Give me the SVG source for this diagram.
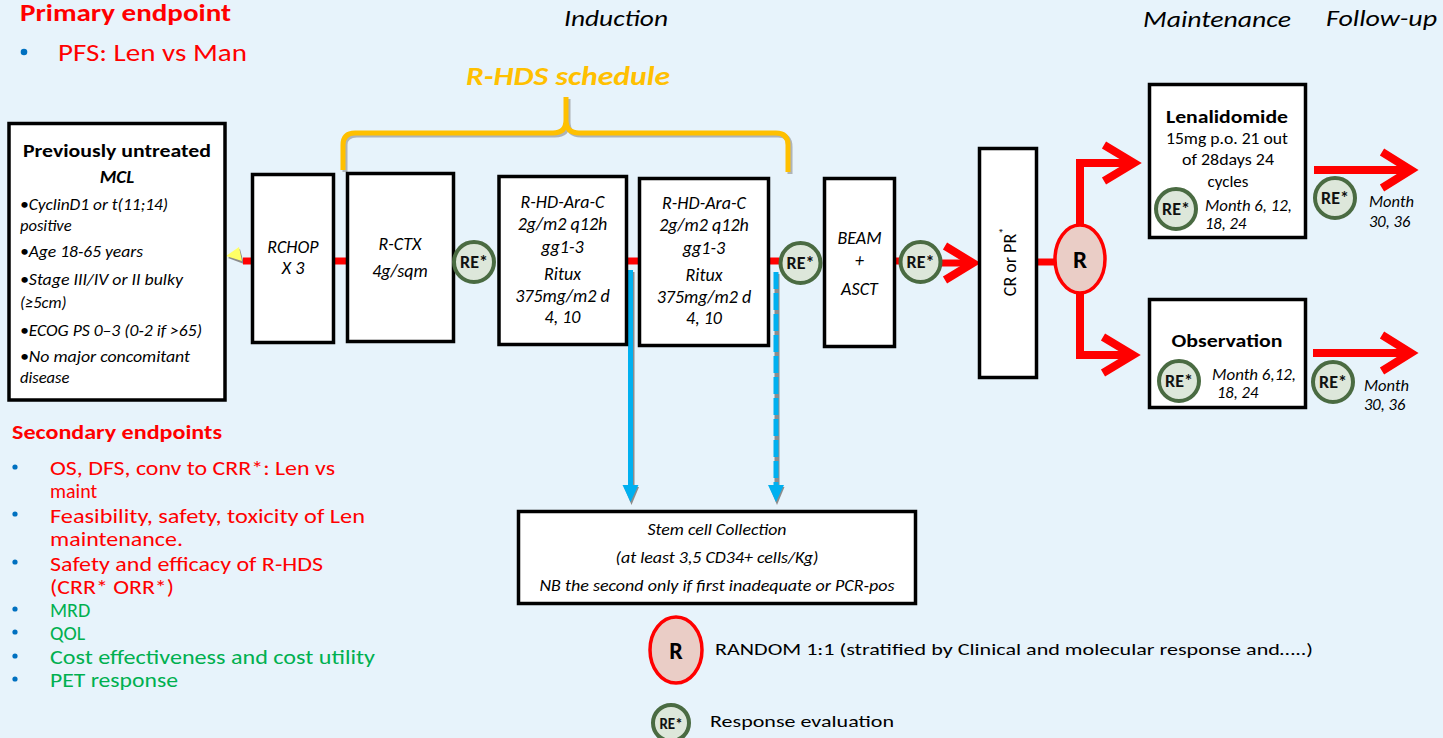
<svg xmlns="http://www.w3.org/2000/svg" width="1443" height="738" viewBox="0 0 1443 738">
<style>
text{font-family:Carlito,Lato,"Liberation Sans",sans-serif;fill:#000}
.box{fill:#fff;stroke:#000;stroke-width:3.5}
.it{font-style:italic}
.b{font-weight:bold}
.red{fill:#ff0000}
.grn{fill:#00b050}
.bt{font-size:18px;font-style:italic;text-anchor:middle}
.re circle{fill:#dde7da;stroke:#4a6b42;stroke-width:4}
.re text{font-size:18px;font-weight:bold;text-anchor:middle;fill:#111}
.rl{stroke:#ff0000;stroke-width:7;fill:none}
.ra{stroke:#ff0000;stroke-width:8;fill:none;stroke-linejoin:miter}
.sec{font-size:20px}
.bul{fill:#0070c0}
</style>
<rect x="0" y="0" width="1443" height="738" fill="#e7f3fb"/>

<!-- headers -->
<g id="headers">
<text x="20" y="21" class="b red" font-size="24" textLength="211" lengthAdjust="spacingAndGlyphs">Primary endpoint</text>
<circle cx="24" cy="52" r="3.3" class="bul"/>
<text x="58" y="61" class="red" font-size="24" textLength="189" lengthAdjust="spacingAndGlyphs">PFS: Len vs Man</text>
<text x="564" y="26" class="it" font-size="23" textLength="104" lengthAdjust="spacingAndGlyphs">Induction</text>
<text x="1143" y="27" class="it" font-size="23" textLength="148" lengthAdjust="spacingAndGlyphs">Maintenance</text>
<text x="1326" y="26" class="it" font-size="23" textLength="111" lengthAdjust="spacingAndGlyphs">Follow-up</text>
</g>

<!-- brace -->
<g id="brace">
<path d="M345,172 L345,145 Q345,135 357,135 L555,135 Q568,135 568,122 L568,99 M568,122 Q568,135 581,135 L778,135 Q790,135 790,147 L790,174" fill="none" stroke="#8a8a8a" stroke-width="5" opacity="0.6"/>
<path d="M343,170 L343,145 Q343,133 355,133 L553,133 Q566,133 566,120 L566,97 M566,120 Q566,133 579,133 L776,133 Q788,133 788,145 L788,172" fill="none" stroke="#ffc000" stroke-width="5"/>
<text x="568" y="85" class="b it" font-size="26" text-anchor="middle" style="fill:#ffc000" textLength="204" lengthAdjust="spacingAndGlyphs">R-HDS schedule</text>
</g>

<!-- connectors -->
<g id="connectors">
<polygon points="228,258 240,249 244,264" fill="#8c8c8c"/>
<polygon points="226,256 239,247 242,261" fill="#ffff66"/>
<line x1="243" y1="261" x2="251" y2="261" class="rl"/>
<line x1="335" y1="261" x2="347" y2="261" class="rl"/>
<line x1="628" y1="261" x2="639" y2="261" class="rl"/>
<line x1="769" y1="261" x2="779" y2="261" class="rl"/>
<line x1="895" y1="261" x2="900" y2="261" class="rl"/>
<line x1="942" y1="263" x2="972" y2="263" class="rl"/>
<path d="M945,246 L973,263 L945,280" class="ra"/>
<line x1="1037" y1="262" x2="1056" y2="262" class="rl"/>
<path d="M1080,226 L1080,163 L1132,163" class="ra"/>
<path d="M1104,145 L1134,163 L1104,181" class="ra"/>
<path d="M1080,292 L1080,355 L1130,355" class="ra"/>
<path d="M1103,337 L1133,355 L1103,373" class="ra"/>
<line x1="1314" y1="170" x2="1408" y2="170" class="ra"/>
<path d="M1382,152 L1411,170 L1382,188" class="ra"/>
<line x1="1313" y1="353" x2="1408" y2="353" class="ra"/>
<path d="M1382,335 L1411,353 L1382,371" class="ra"/>
<!-- blue to stem cell -->
<line x1="632" y1="272" x2="632" y2="490" stroke="#8c8c8c" stroke-width="5"/>
<line x1="630.5" y1="270" x2="630.5" y2="488" stroke="#00b0f0" stroke-width="5"/>
<polygon points="624,487 639,487 631.5,505" fill="#8c8c8c"/>
<polygon points="622.5,485 638.5,485 630.5,502" fill="#00b0f0"/>
<line x1="777" y1="274" x2="777" y2="490" stroke="#8c8c8c" stroke-width="5"/>
<line x1="776" y1="272" x2="776" y2="488" stroke="#00b0f0" stroke-width="5" stroke-dasharray="17 4"/>
<polygon points="769.5,487 784.5,487 777,505" fill="#8c8c8c"/>
<polygon points="768,485 784,485 776,502" fill="#00b0f0"/>
</g>

<!-- nodes -->
<g id="patients">
<rect x="9" y="123.5" width="216" height="276.5" class="box"/>
<text x="117" y="157" class="b" font-size="19" text-anchor="middle" textLength="188" lengthAdjust="spacingAndGlyphs">Previously untreated</text>
<text x="117" y="183" class="b it" font-size="19" text-anchor="middle">MCL</text>
<text x="20" y="210" class="it" font-size="16.5" textLength="148" lengthAdjust="spacingAndGlyphs">•CyclinD1 or t(11;14)</text>
<text x="20" y="231" class="it" font-size="16.5">positive</text>
<text x="20" y="257" class="it" font-size="16.5" textLength="123" lengthAdjust="spacingAndGlyphs">•Age 18-65 years</text>
<text x="20" y="285" class="it" font-size="16.5" textLength="163" lengthAdjust="spacingAndGlyphs">•Stage III/IV or II bulky</text>
<text x="20" y="308" class="it" font-size="16.5">(≥5cm)</text>
<text x="20" y="336" class="it" font-size="16.5" textLength="182" lengthAdjust="spacingAndGlyphs">•ECOG PS 0–3 (0-2 if &gt;65)</text>
<text x="20" y="362" class="it" font-size="16.5" textLength="170" lengthAdjust="spacingAndGlyphs">•No major concomitant</text>
<text x="20" y="383" class="it" font-size="16.5">disease</text>
</g>

<g id="rchop">
<rect x="252.5" y="174.5" width="81" height="168" class="box"/>
<text x="293" y="253" class="bt">RCHOP</text>
<text x="293" y="274" class="bt">X 3</text>
</g>

<g id="rctx">
<rect x="347.5" y="173.5" width="106" height="168" class="box"/>
<text x="400" y="250" class="bt">R-CTX</text>
<text x="400" y="277" class="bt">4g/sqm</text>
</g>

<g id="re1" class="re"><circle cx="474" cy="262" r="20"/><text x="474" y="268">RE*</text></g>

<g id="hdarac1">
<rect x="499" y="176.5" width="127.5" height="168" class="box"/>
<text x="562.5" y="208" class="bt">R-HD-Ara-C</text>
<text x="562.5" y="230" class="bt">2g/m2 q12h</text>
<text x="562.5" y="253" class="bt">gg1-3</text>
<text x="562.5" y="280" class="bt">Ritux</text>
<text x="562.5" y="302" class="bt">375mg/m2 d</text>
<text x="562.5" y="323" class="bt">4, 10</text>
</g>

<g id="hdarac2">
<rect x="639.5" y="178.5" width="129" height="167" class="box"/>
<text x="704" y="209" class="bt">R-HD-Ara-C</text>
<text x="704" y="231" class="bt">2g/m2 q12h</text>
<text x="704" y="254" class="bt">gg1-3</text>
<text x="704" y="281" class="bt">Ritux</text>
<text x="704" y="303" class="bt">375mg/m2 d</text>
<text x="704" y="324" class="bt">4, 10</text>
</g>

<g id="re2" class="re"><circle cx="800.5" cy="263" r="20"/><text x="800.5" y="269">RE*</text></g>

<g id="beam">
<rect x="824.5" y="178.5" width="70" height="168" class="box"/>
<text x="859.5" y="244" class="bt">BEAM</text>
<text x="859.5" y="266" class="bt">+</text>
<text x="859.5" y="295" class="bt">ASCT</text>
</g>

<g id="re3" class="re"><circle cx="920.5" cy="262" r="20"/><text x="920.5" y="268">RE*</text></g>

<g id="crpr">
<rect x="979.5" y="148.5" width="57" height="229" class="box"/>
<text transform="translate(1016,262) rotate(-90)" font-size="18" text-anchor="middle">CR or PR<tspan font-size="12" dy="-8">*</tspan></text>
</g>

<g id="random">
<ellipse cx="1080" cy="259" rx="25" ry="34" fill="#eacdc6" stroke="#ff0000" stroke-width="3.5"/>
<text x="1080" y="268" class="b" font-size="25" text-anchor="middle">R</text>
</g>

<g id="lenalidomide">
<rect x="1149.5" y="84.5" width="156" height="153" class="box"/>
<text x="1227" y="123" class="b" font-size="19" text-anchor="middle" textLength="122" lengthAdjust="spacingAndGlyphs">Lenalidomide</text>
<text x="1227" y="144" font-size="17" text-anchor="middle" textLength="122" lengthAdjust="spacingAndGlyphs">15mg p.o. 21 out</text>
<text x="1228" y="165" font-size="17" text-anchor="middle" textLength="92" lengthAdjust="spacingAndGlyphs">of 28days 24</text>
<text x="1228" y="187" font-size="17" text-anchor="middle">cycles</text>
<g class="re"><circle cx="1176" cy="209" r="20"/><text x="1176" y="215">RE*</text></g>
<text x="1205" y="211" class="it" font-size="16.5" textLength="87" lengthAdjust="spacingAndGlyphs">Month 6, 12,</text>
<text x="1205" y="229" class="it" font-size="16.5">18, 24</text>
</g>

<g id="observation">
<rect x="1149.5" y="299.5" width="156" height="108" class="box"/>
<text x="1227" y="347" class="b" font-size="19" text-anchor="middle" textLength="111" lengthAdjust="spacingAndGlyphs">Observation</text>
<g class="re"><circle cx="1179" cy="381" r="20"/><text x="1179" y="387">RE*</text></g>
<text x="1212" y="380" class="it" font-size="16.5" textLength="84" lengthAdjust="spacingAndGlyphs">Month 6,12,</text>
<text x="1217" y="398" class="it" font-size="16.5">18, 24</text>
</g>

<g id="fu-len">
<g class="re"><circle cx="1335" cy="198" r="20"/><text x="1335" y="204">RE*</text></g>
<text x="1369" y="207" class="it" font-size="16.5">Month</text>
<text x="1369" y="227" class="it" font-size="16.5">30, 36</text>
</g>

<g id="fu-obs">
<g class="re"><circle cx="1333" cy="382" r="20"/><text x="1333" y="388">RE*</text></g>
<text x="1364" y="391" class="it" font-size="16.5">Month</text>
<text x="1364" y="410" class="it" font-size="16.5">30, 36</text>
</g>

<g id="stemcell">
<rect x="518.5" y="511.5" width="397" height="92" class="box"/>
<text x="717" y="535" class="it" font-size="17" text-anchor="middle" textLength="139" lengthAdjust="spacingAndGlyphs">Stem cell Collection</text>
<text x="717" y="563" class="it" font-size="17" text-anchor="middle" textLength="203" lengthAdjust="spacingAndGlyphs">(at least 3,5 CD34+ cells/Kg)</text>
<text x="717" y="591" class="it" font-size="17" text-anchor="middle" textLength="355" lengthAdjust="spacingAndGlyphs">NB the second only if first inadequate or PCR-pos</text>
</g>

<!-- secondary endpoints -->
<g id="secondary">
<text x="12" y="439" class="b red" font-size="20" textLength="210" lengthAdjust="spacingAndGlyphs">Secondary endpoints</text>
<circle cx="15" cy="467" r="2.6" class="bul"/>
<circle cx="15" cy="514" r="2.6" class="bul"/>
<circle cx="15" cy="562" r="2.6" class="bul"/>
<circle cx="15" cy="609" r="2.6" class="bul"/>
<circle cx="15" cy="632" r="2.6" class="bul"/>
<circle cx="15" cy="656" r="2.6" class="bul"/>
<circle cx="15" cy="679" r="2.6" class="bul"/>
<text x="50" y="475" class="sec red" textLength="285" lengthAdjust="spacingAndGlyphs">OS, DFS, conv to CRR*: Len vs</text>
<text x="50" y="498" class="sec red">maint</text>
<text x="50" y="523" class="sec red" textLength="315" lengthAdjust="spacingAndGlyphs">Feasibility, safety, toxicity of Len</text>
<text x="50" y="546" class="sec red" textLength="133" lengthAdjust="spacingAndGlyphs">maintenance.</text>
<text x="50" y="571" class="sec red" textLength="273" lengthAdjust="spacingAndGlyphs">Safety and efficacy of R-HDS</text>
<text x="50" y="594" class="sec red" textLength="124" lengthAdjust="spacingAndGlyphs">(CRR* ORR*)</text>
<text x="50" y="617" class="sec grn">MRD</text>
<text x="50" y="640" class="sec grn">QOL</text>
<text x="50" y="664" class="sec grn" textLength="325" lengthAdjust="spacingAndGlyphs">Cost effectiveness and cost utility</text>
<text x="50" y="687" class="sec grn" textLength="128" lengthAdjust="spacingAndGlyphs">PET response</text>
</g>

<!-- legend -->
<g id="legend-r">
<ellipse cx="676" cy="650" rx="26" ry="33" fill="#eacdc6" stroke="#ff0000" stroke-width="3.5"/>
<text x="676" y="659" class="b" font-size="24" text-anchor="middle">R</text>
<text x="715" y="655" font-size="17" textLength="598" lengthAdjust="spacingAndGlyphs">RANDOM 1:1 (stratified by Clinical and molecular response and…..)</text>
</g>
<g id="legend-re">
<g class="re"><circle cx="671" cy="723" r="18"/><text x="671" y="729" style="font-size:15px">RE*</text></g>
<text x="710" y="727" font-size="17" textLength="184" lengthAdjust="spacingAndGlyphs">Response evaluation</text>
</g>
</svg>
